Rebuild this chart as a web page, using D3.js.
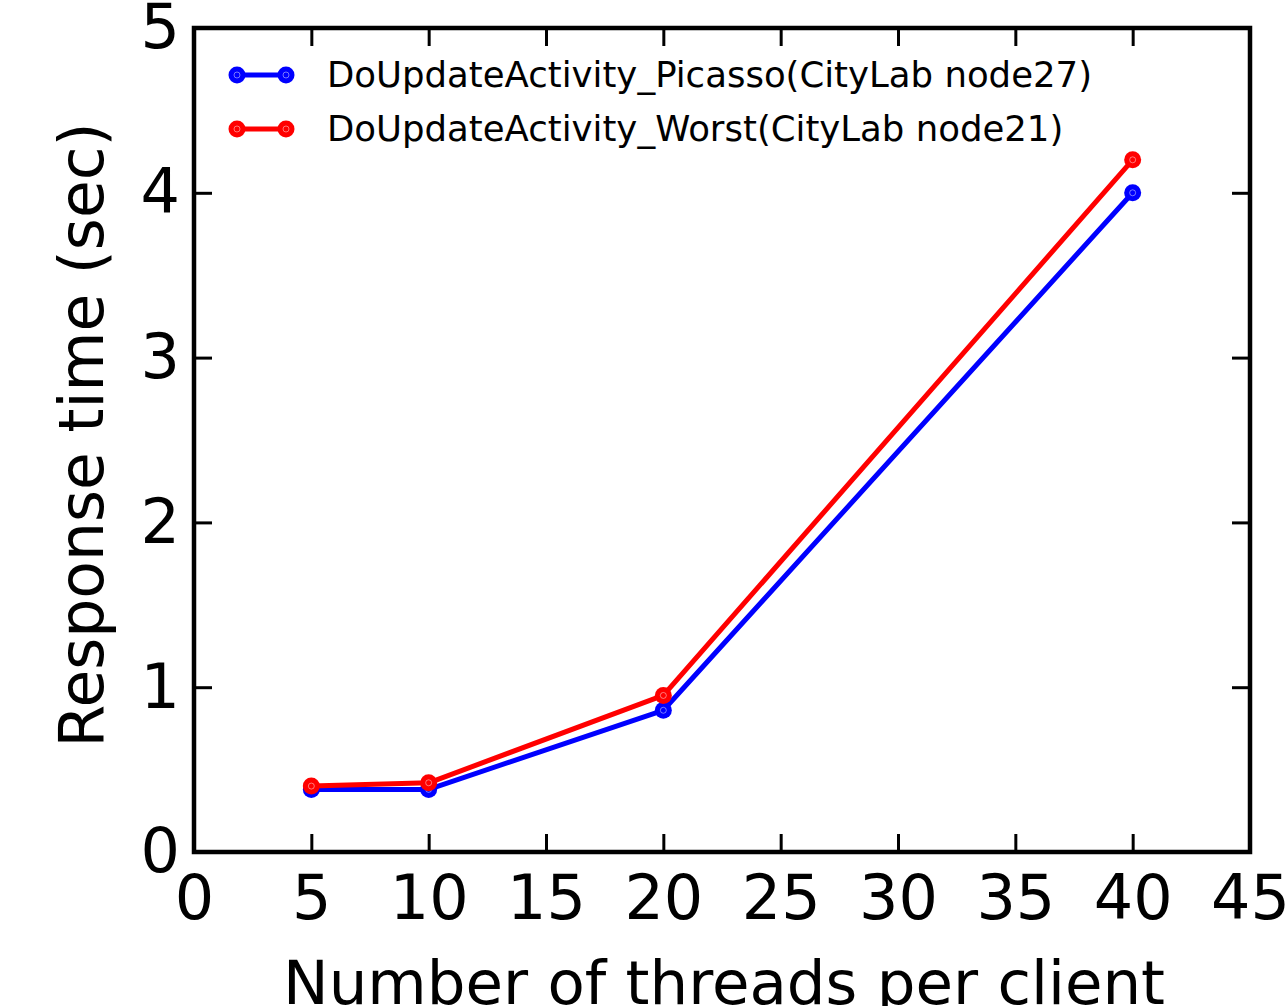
<!DOCTYPE html>
<html><head><meta charset="utf-8">
<script src="https://cdn.jsdelivr.net/npm/d3@7"></script>
<style>
html,body{margin:0;padding:0;background:#fff;}
text{font-family:"DejaVu Sans",sans-serif;fill:#000;}
</style></head>
<body>
<svg id="chart" width="1288" height="1006"></svg>
<script>
const threads = [5, 10, 20, 40];
const picasso = [0.38, 0.38, 0.86, 4.0];
const worst = [0.40, 0.42, 0.95, 4.2];
const seriesNames = ["DoUpdateActivity_Picasso(CityLab node27)", "DoUpdateActivity_Worst(CityLab node21)"];
const seriesColors = ["#0000ff", "#ff0000"];
const xTicks = [0, 5, 10, 15, 20, 25, 30, 35, 40, 45];
const yTicks = [0, 1, 2, 3, 4, 5];
const xTitle = "Number of threads per client";
const yTitle = "Response time (sec)";

const svg = d3.select("#chart");
const L = 194, R = 1250, T = 28, B = 852;
const x = d3.scaleLinear().domain([0, 45]).range([L, R]);
const y = d3.scaleLinear().domain([0, 5]).range([B, T]);
const tickLen = 18;
const fmt = d3.format("d");

const axBottom = d3.axisBottom(x).tickValues(xTicks).tickFormat(fmt).tickSizeInner(-tickLen).tickSizeOuter(0).tickPadding(23);
const axTop = d3.axisTop(x).tickValues(xTicks).tickSizeInner(-tickLen).tickSizeOuter(0).tickFormat("");
const axLeft = d3.axisLeft(y).tickValues(yTicks).tickFormat(fmt).tickSizeInner(-tickLen).tickSizeOuter(0).tickPadding(14);
const axRight = d3.axisRight(y).tickValues(yTicks).tickSizeInner(-tickLen).tickSizeOuter(0).tickFormat("");

function style(g){
  g.select(".domain").remove();
  g.selectAll(".tick line").attr("stroke", "#000").attr("stroke-width", 3);
  g.selectAll(".tick text").attr("font-family", "DejaVu Sans").attr("font-size", 62).attr("fill", "#000");
}
svg.append("g").attr("transform", `translate(0,${B})`).call(axBottom).call(style);
svg.append("g").attr("transform", `translate(0,${T})`).call(axTop).call(style);
svg.append("g").attr("transform", `translate(${L},0)`).call(axLeft).call(style);
svg.append("g").attr("transform", `translate(${R},0)`).call(axRight).call(style);

// data lines
const data = [picasso, worst];
const line = d3.line().x((d, i) => x(threads[i])).y(d => y(d));
function marker(g, cx, cy, c){
  g.append("circle").attr("cx", cx).attr("cy", cy).attr("r", 8.5).attr("fill", c);
  g.append("circle").attr("cx", cx).attr("cy", cy).attr("r", 3)
    .attr("fill", "none").attr("stroke", "#fff").attr("stroke-width", 1).attr("stroke-opacity", 0.45);
}
data.forEach((vals, k) => {
  const g = svg.append("g");
  g.append("path").datum(vals).attr("d", line).attr("fill", "none")
    .attr("stroke", seriesColors[k]).attr("stroke-width", 5).attr("stroke-linejoin", "round");
  vals.forEach((d, i) => marker(g, x(threads[i]), y(d), seriesColors[k]));
});

// frame
svg.append("rect").attr("x", L).attr("y", T).attr("width", R - L).attr("height", B - T)
  .attr("fill", "none").attr("stroke", "#000").attr("stroke-width", 4.5);

// legend
const leg = svg.append("g");
seriesNames.forEach((name, k) => {
  const ly = 75 + k * 54;
  leg.append("line").attr("x1", 237).attr("x2", 286).attr("y1", ly).attr("y2", ly)
    .attr("stroke", seriesColors[k]).attr("stroke-width", 5);
  [237, 286].forEach(cx => marker(leg, cx, ly, seriesColors[k]));
  leg.append("text").attr("x", 327).attr("y", ly + 12).attr("font-size", 35.5).text(name);
});

// axis titles
svg.append("text").attr("x", (L + R) / 2 + 2).attr("y", 1004).attr("text-anchor", "middle")
  .attr("font-size", 61).text(xTitle);
svg.append("text").attr("transform", `translate(103,${(T + B) / 2 - 5}) rotate(-90)`)
  .attr("text-anchor", "middle").attr("font-size", 61.5).text(yTitle);
</script>
</body></html>
